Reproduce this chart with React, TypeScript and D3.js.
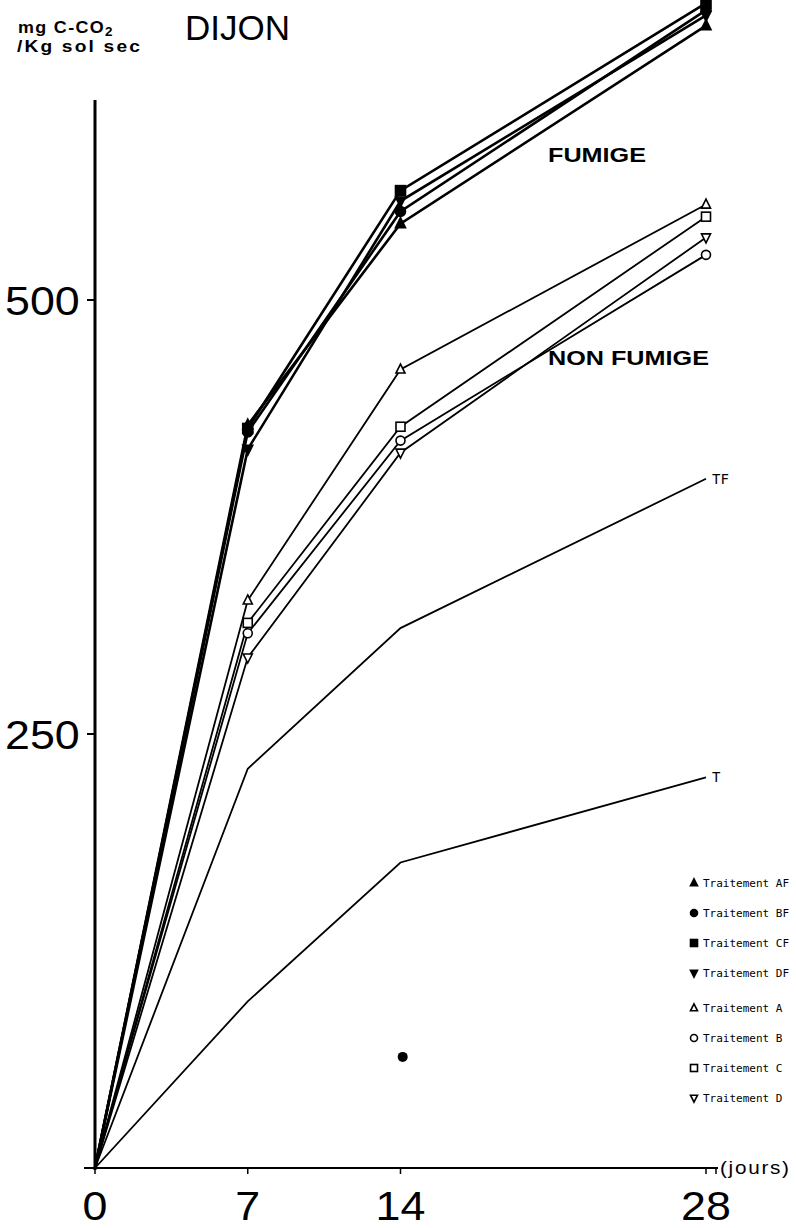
import React from "react";
import * as d3 from "d3";

const days = [0, 7, 14, 28];
const xTicks = [0, 7, 14, 28];
const yTicks = [250, 500];

const seriesAF = [0, 428, 544, 658];
const seriesBF = [0, 424, 551, 667];
const seriesCF = [0, 426, 563, 671];
const seriesDF = [0, 414, 557, 664];

const seriesA = [0, 327, 460, 555];
const seriesB = [0, 308, 419, 526];
const seriesC = [0, 314, 427, 548];
const seriesD = [0, 294, 412, 536];

const seriesTF = [0, 230, 311, 397];
const seriesT = [0, 96, 176, 225];

const strayPoint = { day: 14.1, value: 64 };

const legendLabels = [
  "Traitement AF",
  "Traitement BF",
  "Traitement CF",
  "Traitement DF",
  "Traitement A",
  "Traitement B",
  "Traitement C",
  "Traitement D",
];
const legendShapes = ["tri", "circle", "square", "itri", "tri", "circle", "square", "itri"];
const legendFilled = [true, true, true, true, false, false, false, false];

const W = 796;
const H = 1228;

function Marker({ shape, x, y, filled, size = 5 }: any) {
  const fill = filled ? "#000" : "#fff";
  const sw = 1.6;
  if (shape === "circle")
    return <circle cx={x} cy={y} r={size} fill={fill} stroke="#000" strokeWidth={sw} />;
  if (shape === "square")
    return (
      <rect x={x - size} y={y - size} width={size * 2} height={size * 2} fill={fill} stroke="#000" strokeWidth={sw} />
    );
  if (shape === "tri")
    return (
      <path
        d={`M${x},${y - size * 1.2} L${x + size},${y + size * 0.8} L${x - size},${y + size * 0.8} Z`}
        fill={fill}
        stroke="#000"
        strokeWidth={sw}
      />
    );
  return (
    <path
      d={`M${x},${y + size * 1.2} L${x + size},${y - size * 0.8} L${x - size},${y - size * 0.8} Z`}
      fill={fill}
      stroke="#000"
      strokeWidth={sw}
    />
  );
}

export default function App() {
  const x = d3.scaleLinear().domain([0, 28]).range([95, 706]);
  const y = d3.scaleLinear().domain([0, 500]).range([1168, 300]);
  const line = d3
    .line<number>()
    .x((_, i) => x(days[i]))
    .y((v) => y(v));

  const fumSeries = [
    { vals: seriesAF, shape: "tri" },
    { vals: seriesBF, shape: "circle" },
    { vals: seriesCF, shape: "square" },
    { vals: seriesDF, shape: "itri" },
  ];
  const nonSeries = [
    { vals: seriesA, shape: "tri" },
    { vals: seriesB, shape: "circle" },
    { vals: seriesC, shape: "square" },
    { vals: seriesD, shape: "itri" },
  ];

  const legendY = [883, 913, 943, 973, 1008, 1038, 1068, 1098];
  const sans = "'Liberation Sans', Arial, sans-serif";
  const mono = "'DejaVu Sans Mono', monospace";

  return (
    <svg
      width={W}
      height={H}
      viewBox={`0 0 ${W} ${H}`}
      style={{ position: "absolute", left: 0, top: 0, background: "#fff" }}
    >
      <rect x={0} y={0} width={W} height={H} fill="#fff" />
      {/* title */}
      <text transform="translate(18,33) scale(1.12,1)" fontFamily={sans} fontWeight="bold" fontSize={16} letterSpacing={1.2}>
        mg C-CO<tspan fontSize={12} dy={3}>2</tspan>
      </text>
      <text transform="translate(17,52) scale(1.2,1)" fontFamily={sans} fontWeight="bold" fontSize={16} letterSpacing={1.8}>
        /Kg sol sec
      </text>
      <text x={185} y={40} fontFamily={sans} fontSize={35}>
        DIJON
      </text>

      {/* axes */}
      <line x1={95} x2={95} y1={100} y2={1170} stroke="#000" strokeWidth={3} />
      <line x1={84} x2={718} y1={1168} y2={1168} stroke="#000" strokeWidth={2.2} />
      {yTicks.map((t) => (
        <g key={t}>
          <line x1={87} x2={95} y1={y(t)} y2={y(t)} stroke="#000" strokeWidth={2} />
          <text
            transform={`translate(5,${y(t) + 15}) scale(1.12,1)`}
            fontFamily={sans}
            fontSize={40}
          >
            {t}
          </text>
        </g>
      ))}
      {xTicks.map((t) => (
        <g key={t}>
          <line x1={x(t)} x2={x(t)} y1={1168} y2={1174} stroke="#000" strokeWidth={1.5} />
          <text
            transform={`translate(${x(t)},1220) scale(1.12,1)`}
            textAnchor="middle"
            fontFamily={sans}
            fontSize={40}
          >
            {t}
          </text>
        </g>
      ))}
      <line x1={716} x2={716} y1={1168} y2={1174} stroke="#000" strokeWidth={1.5} />
      <text transform="translate(720,1174) scale(1.15,1)" fontFamily={sans} fontSize={18} letterSpacing={1.5}>
        (jours)
      </text>

      {/* T and TF */}
      <path d={line(seriesT) || ""} fill="none" stroke="#000" strokeWidth={1.8} />
      <path d={line(seriesTF) || ""} fill="none" stroke="#000" strokeWidth={1.8} />
      <text x={712} y={y(seriesTF[3]) + 5} fontFamily={mono} fontSize={14}>
        TF
      </text>
      <text x={712} y={y(seriesT[3]) + 5} fontFamily={mono} fontSize={14}>
        T
      </text>

      {/* non fumigated */}
      {nonSeries.map((s, i) => (
        <path key={"nl" + i} d={line(s.vals) || ""} fill="none" stroke="#000" strokeWidth={1.8} />
      ))}
      {nonSeries.map((s, i) =>
        s.vals.slice(1).map((v, j) => (
          <Marker key={`nm${i}-${j}`} shape={s.shape} x={x(days[j + 1])} y={y(v)} filled={false} size={4.5} />
        ))
      )}

      {/* fumigated */}
      {fumSeries.map((s, i) => (
        <path key={"fl" + i} d={line(s.vals) || ""} fill="none" stroke="#000" strokeWidth={2.6} />
      ))}
      {fumSeries.map((s, i) =>
        s.vals.slice(1).map((v, j) => (
          <Marker key={`fm${i}-${j}`} shape={s.shape} x={x(days[j + 1])} y={y(v)} filled={true} size={5} />
        ))
      )}

      <circle cx={x(strayPoint.day)} cy={y(strayPoint.value)} r={5} fill="#000" />

      <text transform="translate(548,162) scale(1.2,1)" fontFamily={sans} fontWeight="bold" fontSize={21}>
        FUMIGE
      </text>
      <text transform="translate(548,365) scale(1.2,1)" fontFamily={sans} fontWeight="bold" fontSize={21}>
        NON FUMIGE
      </text>

      {/* legend */}
      {legendLabels.map((lab, i) => (
        <g key={lab}>
          <Marker shape={legendShapes[i]} x={694} y={legendY[i]} filled={legendFilled[i]} size={3.5} />
          <text x={703} y={legendY[i] + 4} fontFamily={mono} fontSize={11}>
            {lab}
          </text>
        </g>
      ))}
    </svg>
  );
}
